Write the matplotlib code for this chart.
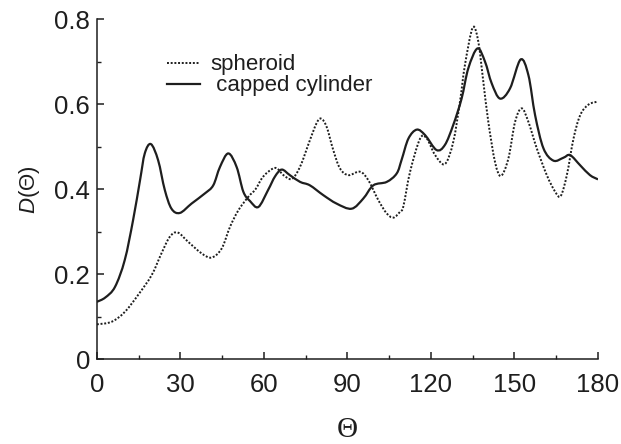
import matplotlib
matplotlib.use("Agg")
import matplotlib.pyplot as plt
from matplotlib.path import Path
from matplotlib.patches import PathPatch

plt.rcParams['font.family'] = ['Liberation Sans', 'DejaVu Sans']
plt.rcParams['mathtext.fontset'] = 'custom'
plt.rcParams['mathtext.it'] = 'Liberation Sans:italic'
plt.rcParams['mathtext.rm'] = 'Liberation Sans'

# capped cylinder (solid)
cyl_x = [0, 3, 6.5, 10, 13, 15.5, 17.2, 19.4, 22, 24.4, 26.8, 29.8, 34, 38.8, 41.8,
         44.2, 47.2, 50.2, 52.6, 55, 58, 61.5, 64, 66.4, 69.3, 73, 76.5, 81.3,
         86.1, 91.5, 95.7, 99.3, 104.1, 107.7, 109.5, 111.9, 114.9, 117.9, 122,
         125, 128, 131, 133.4, 136.7, 139.4, 141.8, 144.8, 148.4, 152.2, 155,
         157.4, 160.4, 164, 167.6, 170, 173.6, 177.1, 180]
cyl_y = [0.135, 0.145, 0.17, 0.233, 0.327, 0.421, 0.484, 0.506, 0.468, 0.398, 0.354,
         0.344, 0.366, 0.39, 0.409, 0.452, 0.484, 0.452, 0.394, 0.372, 0.358, 0.398,
         0.43, 0.446, 0.433, 0.417, 0.409, 0.386, 0.366, 0.354, 0.378, 0.409, 0.417,
         0.437, 0.47, 0.519, 0.54, 0.527, 0.492, 0.504, 0.551, 0.613, 0.684, 0.731,
         0.70, 0.649, 0.613, 0.637, 0.705, 0.668, 0.574, 0.496, 0.467, 0.474, 0.48,
         0.456, 0.433, 0.423]

# spheroid (dotted)
sph_x = [0, 5.3, 10, 14.8, 19.7, 23.2, 26.2, 29, 32.8, 37.6, 41.2, 44.8, 47.8, 50.8,
         54.4, 57, 59.8, 64, 67, 70, 73, 76.5, 78.9, 80.5, 82.5, 84.9, 87.3, 90.3,
         94.5, 97.5, 101.1, 104.1, 106.5, 108.9, 110.1, 112.5, 116.1, 118.5, 121.5,
         125, 128, 130.4, 132.2, 135, 137, 138.8, 140.6, 143, 145.1, 147.8, 150.2,
         152.6, 155, 158, 161.6, 164.6, 166.6, 168.8, 171.2, 173.6, 176.6, 180]
sph_y = [0.082, 0.088, 0.111, 0.151, 0.198, 0.249, 0.288, 0.298, 0.276, 0.249, 0.239,
         0.26, 0.311, 0.35, 0.382, 0.40, 0.43, 0.45, 0.433, 0.424, 0.453, 0.515,
         0.555, 0.566, 0.547, 0.492, 0.449, 0.433, 0.441, 0.421, 0.374, 0.343, 0.333,
         0.347, 0.36, 0.441, 0.519, 0.519, 0.48, 0.459, 0.511, 0.605, 0.692, 0.78,
         0.747, 0.653, 0.558, 0.464, 0.431, 0.472, 0.558, 0.59, 0.558, 0.496, 0.433,
         0.394, 0.384, 0.433, 0.519, 0.574, 0.599, 0.606]

ink = '#1e1e1e'


def smooth_path(xs, ys):
    # bezier segments through the read points (catmull-rom tangents)
    pts = list(zip(xs, ys))
    verts = [pts[0]]
    codes = [Path.MOVETO]
    n = len(pts)
    for i in range(n - 1):
        p0 = pts[max(i - 1, 0)]
        p1 = pts[i]
        p2 = pts[i + 1]
        p3 = pts[min(i + 2, n - 1)]
        c1 = (p1[0] + (p2[0] - p0[0]) / 6, p1[1] + (p2[1] - p0[1]) / 6)
        c2 = (p2[0] - (p3[0] - p1[0]) / 6, p2[1] - (p3[1] - p1[1]) / 6)
        verts += [c1, c2, p2]
        codes += [Path.CURVE4] * 3
    return Path(verts, codes)


fig = plt.figure(figsize=(6.21, 4.44), dpi=100)
ax = fig.add_axes([0.156, 0.191, 0.807, 0.766])

sph_style = dict(color=ink, lw=1.4, linestyle=(0, (1, 0.9)))
cyl_style = dict(color=ink, lw=1.6)
ax.add_patch(PathPatch(smooth_path(sph_x, sph_y), fill=False, **sph_style))
ax.add_patch(PathPatch(smooth_path(cyl_x, cyl_y), fill=False, **cyl_style))
ax.plot([], [], label='spheroid', **sph_style)
ax.plot([], [], label=' capped cylinder', **cyl_style)

ax.set_xlim(0, 180)
ax.set_ylim(0, 0.8)
ax.set_xticks([0, 30, 60, 90, 120, 150, 180])
ax.set_xticks([15, 45, 75, 105, 135, 165], minor=True)
ax.set_yticks([0, 0.2, 0.4, 0.6, 0.8])
ax.set_yticklabels(['0', '0.2', '0.4', '0.6', '0.8'])
ax.set_yticks([0.1, 0.3, 0.5, 0.7], minor=True)

for s in ['top', 'right']:
    ax.spines[s].set_visible(False)
for s in ['left', 'bottom']:
    ax.spines[s].set_linewidth(1.1)
    ax.spines[s].set_color(ink)

ax.tick_params(which='major', direction='in', length=5, width=1.1, colors=ink,
               labelsize=18.5)
ax.tick_params(which='minor', direction='in', length=3, width=1.0, colors=ink)
ax.tick_params(axis='x', which='major', pad=10)
ax.tick_params(axis='y', which='major', pad=5)

ax.set_xlabel('Θ', family='Liberation Serif', fontsize=21, color=ink, labelpad=14)
ax.set_ylabel(r'$D$(Θ)', fontsize=16, color=ink, labelpad=9)

ax.legend(loc='upper left', bbox_to_anchor=(0.10, 0.955), frameon=False, fontsize=16,
          handlelength=1.5, handletextpad=0.45, labelspacing=0.0, labelcolor=ink)

fig.savefig('out.png', dpi=100)
